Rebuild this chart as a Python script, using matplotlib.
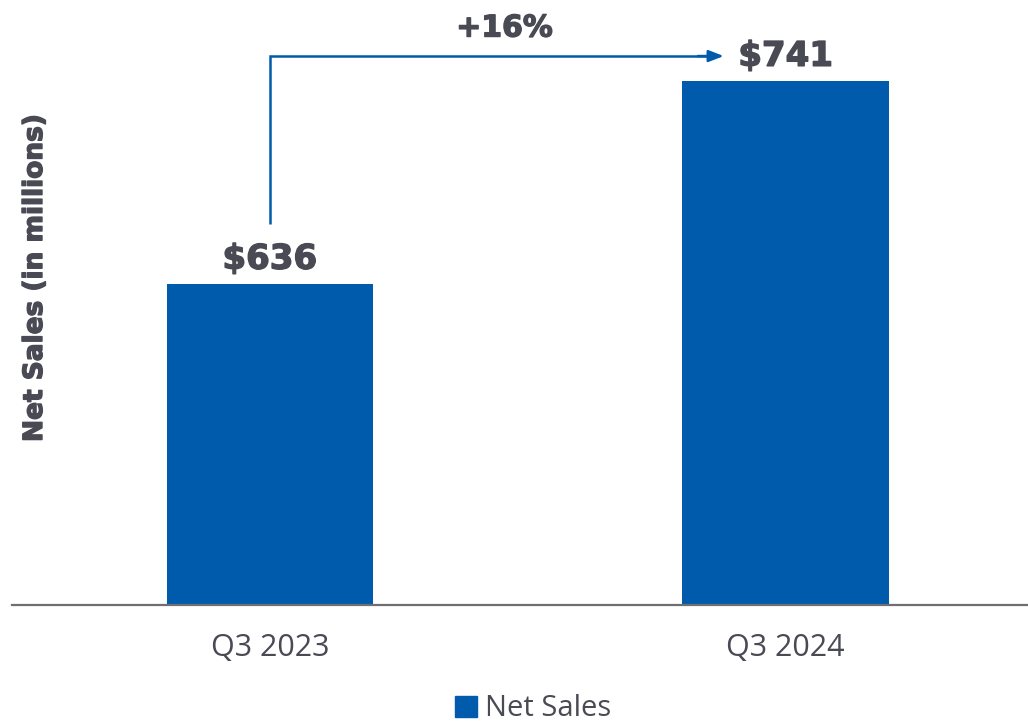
import matplotlib
matplotlib.use("Agg")
import matplotlib.pyplot as plt
from matplotlib.patches import Patch
import matplotlib.patheffects as pe

categories = ["Q3 2023", "Q3 2024"]
values = [636, 741]
value_labels = ["$636", "$741"]
growth_label = "+16%"
series_name = "Net Sales"
y_label = "Net Sales (in millions)"

BAR = "#005BAC"
TXT = "#4A4A55"
heavy = [pe.withStroke(linewidth=1.0, foreground=TXT)]

W, H = 1028, 724
fig = plt.figure(figsize=(W / 100, H / 100), dpi=100)
ax = fig.add_axes([12 / W, (H - 605) / H, 1016 / W, 605 / H])

x = list(range(len(categories)))
ax.bar(x, values, width=0.40, color=BAR, zorder=2)
ax.set_xlim(-0.5, 1.47)
ax.set_ylim(470, 783)

for xi, v, lab in zip(x, values, value_labels):
    ax.annotate(lab, (xi, v), xytext=(0, 6), textcoords="offset points",
                ha="center", va="bottom", fontsize=24.5, fontweight="bold",
                color=TXT, family="DejaVu Sans", path_effects=heavy)

# growth arrow
top = max(values)
ya = top + 13
xend = x[1] - 0.12
ax.plot([x[0], x[0], xend - 0.02], [values[0] + 31, ya, ya], color=BAR, lw=1.8,
        solid_joinstyle="miter", solid_capstyle="butt", zorder=3)
ax.annotate("", xy=(xend, ya), xytext=(xend - 0.05, ya),
            arrowprops=dict(arrowstyle="-|>,head_length=0.9,head_width=0.35",
                            color=BAR, lw=1.8, shrinkA=0, shrinkB=0))
ax.text((x[0] + x[1]) / 2 - 0.045, ya + 14.5, growth_label, ha="center", va="center",
        fontsize=21.5, fontweight="bold", color=TXT, family="DejaVu Sans",
        path_effects=heavy)

for s in ["top", "right", "left"]:
    ax.spines[s].set_visible(False)
ax.spines["bottom"].set_color("#6E6E73")
ax.spines["bottom"].set_linewidth(1.6)
ax.set_yticks([])
ax.set_xticks(x)
ax.set_xticklabels(categories, fontsize=22, color=TXT, family="Open Sans")
ax.tick_params(axis="x", length=0, pad=20)

fig.text(35 / W, 1 - 278 / H, y_label, rotation=90, ha="center", va="center",
         fontsize=19, fontweight="bold", color=TXT, family="DejaVu Sans",
         path_effects=heavy)

fig.legend(handles=[Patch(color=BAR, label=series_name)], loc="center",
           bbox_to_anchor=(533 / W, 1 - 709 / H), frameon=False, borderpad=0,
           prop={"family": "Open Sans", "size": 21}, labelcolor=TXT,
           handlelength=0.75, handleheight=0.75, handletextpad=0.3)

fig.savefig("out.png", dpi=100)
